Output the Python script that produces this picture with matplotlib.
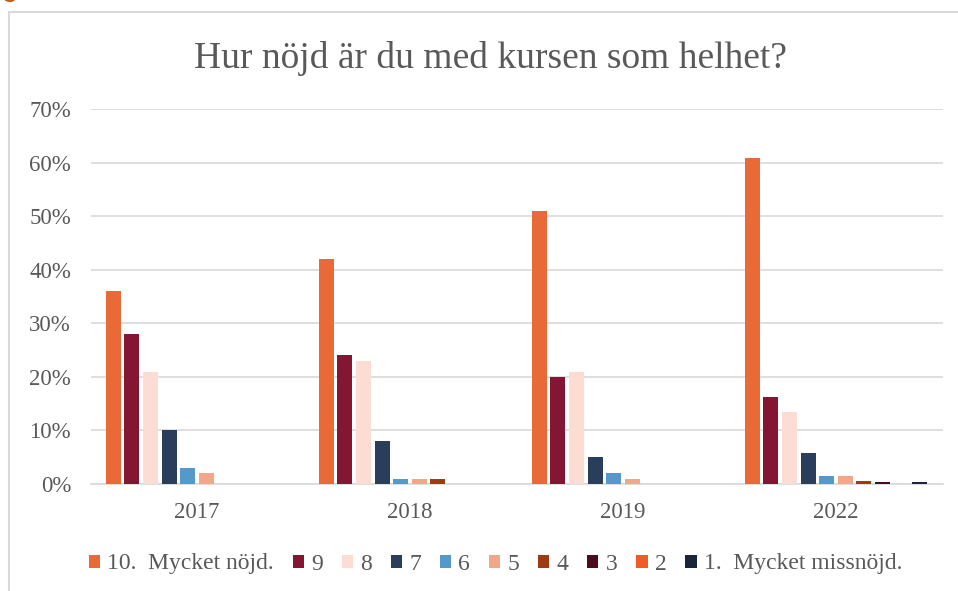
import matplotlib
matplotlib.use('Agg')
import matplotlib.pyplot as plt
from matplotlib.patches import Rectangle
from matplotlib.ticker import PercentFormatter, MultipleLocator
import numpy as np

years = ['2017', '2018', '2019', '2022']
series = ['10.  Mycket nöjd.', '9', '8', '7', '6', '5', '4', '3', '2',
          '1.  Mycket missnöjd.']
v10 = [36, 42, 51, 60.8]
v9 = [28, 24, 20, 16.2]
v8 = [21, 23, 21, 13.4]
v7 = [10, 8, 5, 5.7]
v6 = [3, 1, 2, 1.5]
v5 = [2, 1, 1, 1.5]
v4 = [0, 1, 0, 0.6]
v3 = [0, 0, 0, 0.4]
v2 = [0, 0, 0, 0]
v1 = [0, 0, 0, 0.4]
values = [v10, v9, v8, v7, v6, v5, v4, v3, v2, v1]
colors = ['#E96A36', '#841634', '#FCDCD3', '#283E5A', '#5599CB',
          '#F4A688', '#9E3A14', '#4E0B1E', '#F25A28', '#19253A']

W, H = 958, 591
fig = plt.figure(figsize=(W / 100, H / 100), dpi=100)
plt.rcParams['font.family'] = ['Liberation Serif', 'DejaVu Serif']
txt = '#595959'

# chart frame (extends past right/bottom edge)
fig.patches.append(Rectangle((9 / W, -0.1), 2, 1 - 12 / H + 0.1,
                             transform=fig.transFigure, fill=False,
                             edgecolor='#D9D9D9', lw=1.5))
# clipped document heading above
for xp, s in [(2, 'g'), (349, ','), (438, ',')]:
    fig.text(xp / W, 1 + 4 / H, s, color='#C55A11', fontsize=21,
             family='Liberation Sans', va='baseline', ha='left')

ax = fig.add_axes([90.5 / W, 1 - 484 / H, 852 / W, 375 / H])
x = np.arange(len(years))
step = 0.0873
bw = 0.0704
for i, (vals, c, lab) in enumerate(zip(values, colors, series)):
    ax.bar(x + (i - 4.5) * step, vals, width=bw, color=c, label=lab,
           zorder=3)

ax.set_xlim(-0.5, len(years) - 0.5)
ax.set_ylim(0, 70)
ax.yaxis.set_major_locator(MultipleLocator(10))
ax.yaxis.set_major_formatter(PercentFormatter(decimals=0))
ax.grid(axis='y', color='#D9D9D9', lw=1.2, zorder=0)
for s in ['top', 'right', 'left']:
    ax.spines[s].set_visible(False)
ax.spines['bottom'].set_color('#D9D9D9')
ax.spines['bottom'].set_linewidth(1.2)
ax.set_xticks(x)
ax.set_xticklabels(years)
ax.tick_params(axis='both', length=0, labelsize=16.5, labelcolor=txt)
ax.tick_params(axis='y', pad=14)
ax.tick_params(axis='x', pad=13)

fig.text(490 / W, 1 - 67.7 / H, 'Hur nöjd är du med kursen som helhet?',
         ha='center', va='baseline', fontsize=27, color=txt)

leg = fig.legend(loc='center', bbox_to_anchor=(495.5 / W, 1 - 564 / H),
                 ncol=10, frameon=False, fontsize=17,
                 handlelength=0.47, handleheight=0.47, handletextpad=0.3,
                 columnspacing=0.81, borderaxespad=0, borderpad=0)
for t in leg.get_texts():
    t.set_color(txt)

fig.savefig('out.png', dpi=100)
